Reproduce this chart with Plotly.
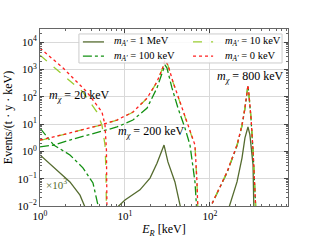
import plotly.graph_objects as go

# ---- data (E_R in keV, rate in events/(t y keV)) ----
# m_A' = 0 keV (red dotted)
red20_E = [1.0, 1.87, 3.57, 5.36, 5.82, 6.05, 6.14]
red20_y = [6000, 1120, 148, 27.5, 9.1, 1.1, 0.005]
red200_E = [1.0, 2.25, 5.08, 8.05, 12.4, 18.2, 23.8, 28.0, 29.5, 32.0, 36.7, 44.4, 55.1, 66.6, 70.3, 72.3]
red200_y = [2.6, 4.7, 9.1, 14, 27.5, 89, 350, 1230, 2200, 1450, 350, 64, 9.1, 1.7, 0.076, 0.005]
red800_E = [92.2, 121, 158, 208, 238, 258, 280, 288, 304, 321, 339, 348]
red800_y = [0.005, 0.032, 0.17, 1.7, 9.1, 39, 270, 115, 16.6, 1.1, 0.059, 0.005]

# m_A' = 10 keV (yellow-green dashed)
yel20_E = [1.0, 1.87, 3.2, 4.68, 5.36, 5.82, 5.97, 6.05]
yel20_y = [3300, 620, 148, 27.5, 9.1, 1.7, 0.21, 0.005]
yel200_E = [1.0, 2.25, 5.08, 8.05, 12.4, 18.2, 23.8, 28.0, 29.5, 32.0, 36.7, 44.4, 55.1, 66.6, 70.3, 72.3]
yel200_y = [2.5, 4.6, 9.0, 14, 27, 88, 345, 1200, 2150, 1420, 340, 62, 8.8, 1.6, 0.07, 0.005]
yel800_E = [92.2, 121, 158, 208, 238, 258, 280, 288, 304, 321, 339, 348]
yel800_y = [0.005, 0.032, 0.17, 1.7, 9.1, 39, 265, 112, 16, 1.05, 0.057, 0.005]

# m_A' = 100 keV (green dash-dot)
grn20_E = [1.0, 1.45, 2.25, 3.2, 4.2, 5.08]
grn20_y = [7.1, 1.7, 0.74, 0.25, 0.07, 0.005]
grn200_E = [1.0, 1.45, 2.25, 5.08, 8.05, 12.4, 18.2, 23.8, 28.0, 29.5, 31.2, 35.7, 42.0, 50.8, 58.2, 66.6, 70.3]
grn200_y = [1.45, 1.7, 2.6, 5.1, 7.8, 14, 38.5, 210, 960, 1450, 1120, 210, 38.5, 7.1, 1.7, 0.076, 0.005]
grn800_E = [92.2, 121, 158, 208, 238, 258, 280, 288, 304, 321, 339, 348]
grn800_y = [0.005, 0.03, 0.16, 1.6, 8.6, 37, 255, 108, 15.5, 1.0, 0.055, 0.005]

# m_A' = 1 MeV (olive solid, x10^3)
olv20_E = [1.0, 1.585, 2.25, 2.955, 3.67]
olv20_y = [0.74, 0.21, 0.076, 0.025, 0.005]
olv200_E = [6.66, 10.0, 15.0, 19.7, 23.8, 28.8, 32.0, 38.7, 46.9]
olv200_y = [0.005, 0.0166, 0.039, 0.105, 0.37, 1.7, 0.41, 0.076, 0.005]
olv800_E = [158, 208, 238, 258, 280, 295, 321, 329]
olv800_y = [0.005, 0.076, 0.57, 3.1, 7.8, 4.0, 0.32, 0.005]

legend_labels = ["<i>m</i><sub><i>A'</i></sub> = 1 MeV", "<i>m</i><sub><i>A'</i></sub> = 100 keV",
                 "<i>m</i><sub><i>A'</i></sub> = 10 keV", "<i>m</i><sub><i>A'</i></sub> = 0 keV"]

x_tickvals = [1, 10, 100]
x_ticktext = ["10<sup>0</sup>", "10<sup>1</sup>", "10<sup>2</sup>"]
y_tickvals = [1e-2, 1e-1, 1, 10, 100, 1e3, 1e4]
y_ticktext = ["10<sup>−2</sup>", "10<sup>−1</sup>", "10<sup>0</sup>", "10<sup>1</sup>",
              "10<sup>2</sup>", "10<sup>3</sup>", "10<sup>4</sup>"]


def join(*parts):
    out = []
    for i, p in enumerate(parts):
        if i:
            out.append(None)
        out.extend(p)
    return out


FONT = "Liberation Serif"
fig = go.Figure()

series = [
    (legend_labels[0], olv20_E, olv20_y, olv200_E, olv200_y, olv800_E, olv800_y, "#556B2F", "solid"),
    (legend_labels[1], grn20_E, grn20_y, grn200_E, grn200_y, grn800_E, grn800_y, "#139113", "dashdot"),
    (legend_labels[2], yel20_E, yel20_y, yel200_E, yel200_y, yel800_E, yel800_y, "#9ACD32", "dash"),
    (legend_labels[3], red20_E, red20_y, red200_E, red200_y, red800_E, red800_y, "#FF2020", "dot"),
]
for name, e1, y1, e2, y2, e3, y3, col, dash in series:
    fig.add_trace(go.Scatter(
        x=join(e1, e2, e3), y=join(y1, y2, y3), mode="lines", name=name, showlegend=False,
        line=dict(color=col, dash=dash, width=1.3), connectgaps=False,
    ))

axis_common = dict(
    type="log", showline=True, linecolor="#666", linewidth=1, mirror="ticks",
    ticks="inside", ticklen=4, tickcolor="#444", showgrid=True, gridcolor="#d9d9d9",
    gridwidth=1, zeroline=False, automargin=False,
    tickfont=dict(family=FONT, size=11, color="black"),
    minor=dict(ticks="inside", ticklen=2, tickcolor="#666", showgrid=False, dtick="D1"),
)
fig.update_xaxes(range=[0, 2.918], tickvals=x_tickvals, ticktext=x_ticktext,
                 title=dict(text="<i>E</i><sub><i>R</i></sub> [keV]", font=dict(family=FONT, size=12, color="black"),
                            standoff=3),
                 **axis_common)
fig.update_yaxes(range=[-2, 4.477], tickvals=y_tickvals, ticktext=y_ticktext,
                 title=dict(text="Events/(t · y · keV)", font=dict(family=FONT, size=12, color="black"),
                            standoff=2),
                 **axis_common)

# ---- legend (box, key lines, labels) in the upper part of the axes ----
fig.add_shape(type="rect", xref="paper", yref="paper", x0=0.157, x1=0.976, y0=0.808, y1=0.972,
              fillcolor="rgba(255,255,255,0.85)", line=dict(color="#cccccc", width=1), layer="above")
key_pos = [(0.173, 0.258, 0.29, 0.927), (0.173, 0.258, 0.29, 0.847),
           (0.617, 0.698, 0.738, 0.927), (0.617, 0.698, 0.738, 0.847)]
for (name, *_rest, col, dash), (kx0, kx1, tx, ky) in zip(series, key_pos):
    fig.add_shape(type="line", xref="paper", yref="paper", x0=kx0, x1=kx1, y0=ky, y1=ky,
                  line=dict(color=col, dash=dash, width=1.3), layer="above")
    fig.add_annotation(xref="paper", yref="paper", x=tx, y=ky, xanchor="left", yanchor="middle",
                       showarrow=False, text=name, font=dict(family=FONT, size=10.5, color="black"))

ann_font = dict(family=FONT, size=12, color="black")
fig.add_annotation(xref="paper", yref="paper", x=0.159, y=0.62, xanchor="center", yanchor="middle",
                   showarrow=False, text="<i>m</i><sub><i>χ</i></sub> = 20 keV", font=ann_font)
fig.add_annotation(xref="paper", yref="paper", x=0.446, y=0.418, xanchor="center", yanchor="middle",
                   showarrow=False, text="<i>m</i><sub><i>χ</i></sub> = 200 keV", font=ann_font)
fig.add_annotation(xref="paper", yref="paper", x=0.845, y=0.729, xanchor="center", yanchor="middle",
                   showarrow=False, text="<i>m</i><sub><i>χ</i></sub> = 800 keV", font=ann_font)
fig.add_annotation(xref="paper", yref="paper", x=0.066, y=0.124, xanchor="center", yanchor="middle",
                   showarrow=False, text="×10<sup>3</sup>", font=dict(family=FONT, size=11, color="#556B2F"))

fig.update_layout(
    width=320, height=240,
    margin=dict(l=40, r=32, t=29, b=34),
    paper_bgcolor="white", plot_bgcolor="white",
    font=dict(family=FONT, size=11, color="black"),
    showlegend=False,
)

fig.write_html("out.html", config={"displayModeBar": False},
               post_script="document.body.style.margin='0';document.body.style.padding='0';")
